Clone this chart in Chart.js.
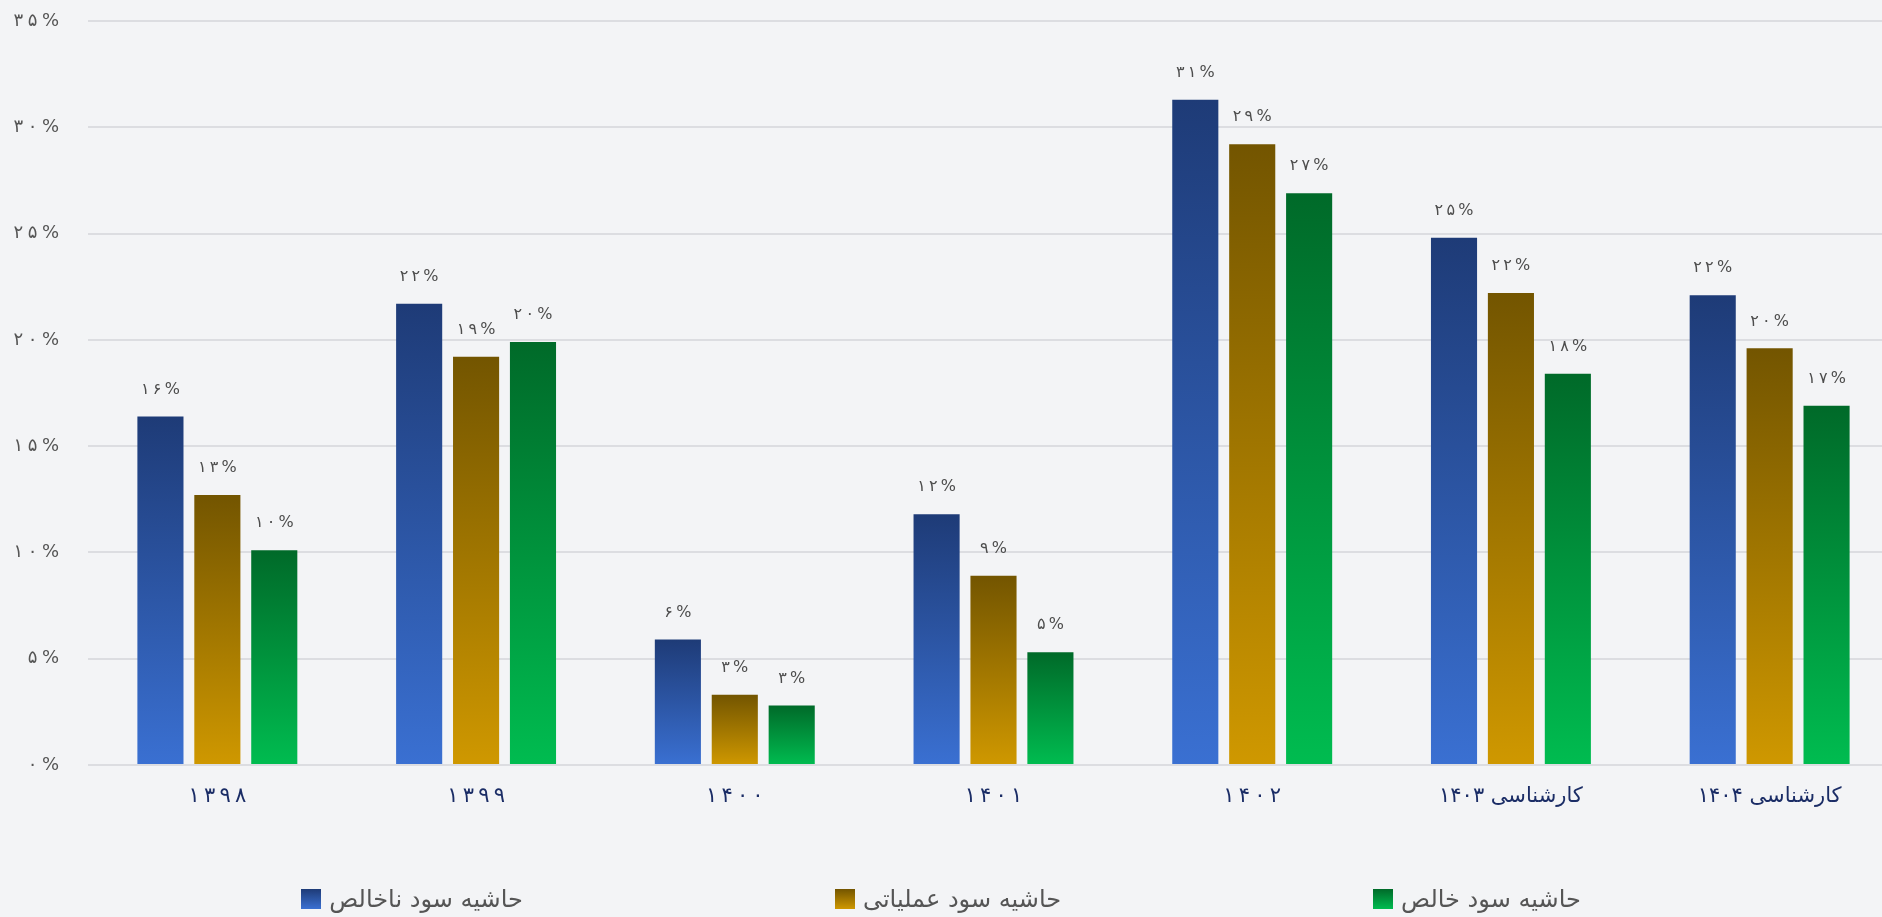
<!DOCTYPE html>
<html lang="fa">
<head>
<meta charset="utf-8">
<title>حاشیه سود</title>
<script src="https://cdn.jsdelivr.net/npm/chart.js@4.4.1/dist/chart.umd.min.js"></script>
<style>
  html, body { margin: 0; padding: 0; background: #f3f4f6; overflow: hidden; }
  #wrap { position: relative; width: 1882px; height: 917px; overflow: hidden; }
  #marginChart { display: block; }
  #legend {
    position: absolute; left: 0; right: 0; top: 885px;
    display: flex; justify-content: center; gap: 312px;
    font-family: "DejaVu Sans", sans-serif; font-size: 24px; color: #555;
  }
  .item { display: flex; align-items: center; gap: 8px; }
  .box { width: 20px; height: 20px; }
</style>
</head>
<body>
<div id="wrap">
  <!-- plot runs a little past the right edge, like the original -->
  <canvas id="marginChart" width="1899" height="917"></canvas>
  <div id="legend"></div>
</div>
<script>
const categories = ["۱۳۹۸", "۱۳۹۹", "۱۴۰۰", "۱۴۰۱", "۱۴۰۲", "کارشناسی ۱۴۰۳", "کارشناسی ۱۴۰۴"];
const seriesNames = ["حاشیه سود ناخالص", "حاشیه سود عملیاتی", "حاشیه سود خالص"];
const grossMargin = [16.4, 21.7, 5.9, 11.8, 31.3, 24.8, 22.1];
const operatingMargin = [12.7, 19.2, 3.3, 8.9, 29.2, 22.2, 19.6];
const netMargin = [10.1, 19.9, 2.8, 5.3, 26.9, 18.4, 16.9];
const yTicks = [0, 5, 10, 15, 20, 25, 30, 35];

const palette = [
  ["#1e3b77", "#3a70d2"],
  ["#735500", "#cf9800"],
  ["#006a29", "#00bc50"]
];

const FA_DIGITS = "۰۱۲۳۴۵۶۷۸۹";
function toFa(n) {
  return String(n).replace(/\d/g, d => FA_DIGITS[d]);
}
// spread out the characters of a pure number label (thin spaces)
function spaced(str, gap) {
  return str.split("").join(gap);
}

function barGradient(context, colors) {
  const chart = context.chart;
  if (!chart.chartArea || context.type !== "data") return colors[1];
  const y = chart.scales.y;
  const top = y.getPixelForValue(context.parsed.y);
  const base = y.getPixelForValue(0);
  if (!isFinite(top) || top === base) return colors[1];
  const g = chart.ctx.createLinearGradient(0, top, 0, base);
  g.addColorStop(0, colors[0]);
  g.addColorStop(1, colors[1]);
  return g;
}

const valueLabels = {
  id: "valueLabels",
  afterDatasetsDraw(chart) {
    const ctx = chart.ctx;
    ctx.save();
    ctx.font = "16px 'DejaVu Sans', sans-serif";
    ctx.fillStyle = "#4d4d4d";
    ctx.textAlign = "center";
    ctx.textBaseline = "middle";
    chart.data.datasets.forEach((ds, i) => {
      chart.getDatasetMeta(i).data.forEach((bar, j) => {
        const txt = spaced(toFa(Math.round(ds.data[j])) + "%", "\u2009");
        ctx.fillText(txt, bar.x, bar.y - 27);
      });
    });
    ctx.restore();
  }
};

const seriesData = [grossMargin, operatingMargin, netMargin];

const chart = new Chart(document.getElementById("marginChart"), {
  type: "bar",
  data: {
    labels: categories,
    datasets: seriesNames.map((name, i) => ({
      label: name,
      data: seriesData[i],
      backgroundColor: ctx => barGradient(ctx, palette[i]),
      borderWidth: 0,
      categoryPercentage: 0.66,
      barPercentage: 0.81
    }))
  },
  options: {
    responsive: false,
    animation: false,
    layout: { padding: { top: 21, right: 0, bottom: 92, left: 0 } },
    plugins: {
      legend: { display: false },
      tooltip: { enabled: false }
    },
    scales: {
      x: {
        grid: { display: false, drawTicks: false },
        border: { display: false },
        afterFit: s => {
          s.height = 60;
          s.paddingLeft = 0;
          s.paddingRight = 0;
        },
        ticks: {
          padding: 19,
          color: "#1b2d66",
          font: { family: "'DejaVu Sans', sans-serif", size: 21 },
          callback: function (v) {
            const lbl = this.getLabelForValue(v);
            return /^[۰-۹]+$/.test(lbl) ? spaced(lbl, "\u2009") : lbl;
          }
        }
      },
      y: {
        min: 0,
        max: 35,
        afterFit: s => {
          s.width = 88;
          s.paddingTop = 0;
          s.paddingBottom = 0;
        },
        afterBuildTicks: s => { s.ticks = yTicks.map(v => ({ value: v })); },
        grid: { color: "#dcdde1", lineWidth: 2, drawTicks: false },
        border: { display: false },
        ticks: {
          padding: 29,
          color: "#555",
          font: { family: "'DejaVu Sans', sans-serif", size: 18 },
          callback: v => spaced(toFa(v) + "%", "\u2005")
        }
      }
    }
  },
  plugins: [valueLabels]
});

// legend drawn as html so the wide spacing matches
const legendEl = document.getElementById("legend");
chart.data.datasets.forEach((ds, i) => {
  const item = document.createElement("div");
  item.className = "item";
  const box = document.createElement("span");
  box.className = "box";
  box.style.background = "linear-gradient(" + palette[i][0] + ", " + palette[i][1] + ")";
  const text = document.createElement("span");
  text.textContent = ds.label;
  item.appendChild(box);
  item.appendChild(text);
  legendEl.appendChild(item);
});
</script>
</body>
</html>
